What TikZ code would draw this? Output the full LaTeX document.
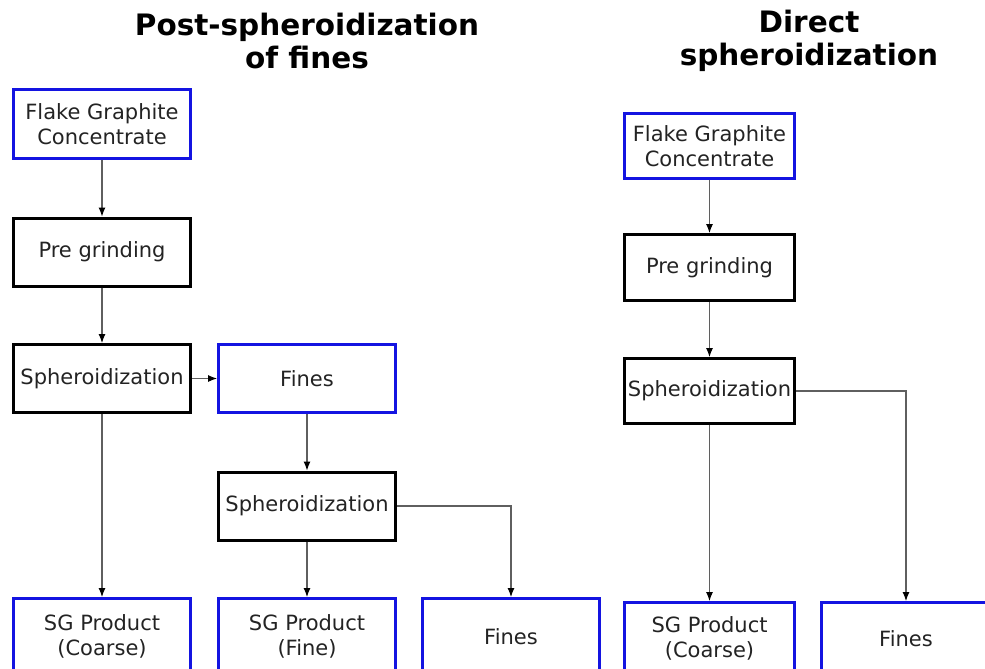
\documentclass[tikz,border=0pt]{standalone}
\usepackage{fontspec}
\setmainfont{DejaVu Sans}
\usetikzlibrary{arrows.meta}
\definecolor{boxblue}{RGB}{20,20,225}
\definecolor{linegray}{RGB}{95,95,95}
\definecolor{txt}{RGB}{35,35,35}
\tikzset{
  base/.style={draw, line width=3pt, inner sep=0pt, align=center, text=txt,
    font=\fontsize{21}{25}\selectfont},
  bluebox/.style={base, draw=boxblue},
  blackbox/.style={base, draw=black},
  lw/.style={minimum width=177pt},
  rw/.style={minimum width=170pt},
  conn/.style={draw=linegray, line width=1.1pt, -{Latex[length=9pt,width=7pt,fill=black,color=black]}},
  title/.style={font=\fontsize{29.5}{33}\selectfont\bfseries, align=center, text=black, inner sep=0pt}
}
\begin{document}
\begin{tikzpicture}[x=1pt,y=-1pt]
\useasboundingbox (0,0) rectangle (985,669);
\clip (0,0) rectangle (985,669);
% titles
\node[title] (t1) at (307,41) {Post-spheroidization\\of fines};
\node[title] (t2) at (809,41) {Direct\\spheroidization};
% left chain
\node[bluebox, lw, minimum height=69pt] (fgc1) at (102,124) {Flake Graphite\\Concentrate};
\node[blackbox, lw, minimum height=68pt] (pre1) at (102,252) {Pre grinding};
\node[blackbox, lw, minimum height=68pt] (sph1) at (102,378.5) {Spheroidization};
\node[bluebox, lw, minimum height=68pt] (fin1) at (307,378.5) {Fines};
\node[blackbox, lw, minimum height=68pt] (sph2) at (307,506) {Spheroidization};
\node[bluebox, lw, minimum height=76pt] (sgc1) at (102,636.5) {SG Product\\(Coarse)};
\node[bluebox, lw, minimum height=76pt] (sgf) at (307,636.5) {SG Product\\(Fine)};
\node[bluebox, lw, minimum height=76pt] (fin2) at (511,636.5) {Fines};
% right chain
\node[bluebox, rw, minimum height=65pt] (fgc2) at (709.5,146) {Flake Graphite\\Concentrate};
\node[blackbox, rw, minimum height=66pt] (pre2) at (709.5,267.5) {Pre grinding};
\node[blackbox, rw, minimum height=65pt] (sph3) at (709.5,391) {Spheroidization};
\node[bluebox, rw, minimum height=72pt] (sgc2) at (709.5,638.5) {SG Product\\(Coarse)};
\node[bluebox, rw, minimum height=72pt] (fin3) at (906,638.5) {Fines};
% connectors
\draw[conn] (fgc1) -- (pre1);
\draw[conn] (pre1) -- (sph1);
\draw[conn] (sph1) -- (fin1);
\draw[conn] (fin1) -- (sph2);
\draw[conn] (sph1) -- (sgc1);
\draw[conn] (sph2) -- (sgf);
\draw[conn] (sph2.east) -| (fin2.north);
\draw[conn] (fgc2) -- (pre2);
\draw[conn] (pre2) -- (sph3);
\draw[conn] (sph3) -- (sgc2);
\draw[conn] (sph3.east) -| (fin3.north);
\end{tikzpicture}
\end{document}
